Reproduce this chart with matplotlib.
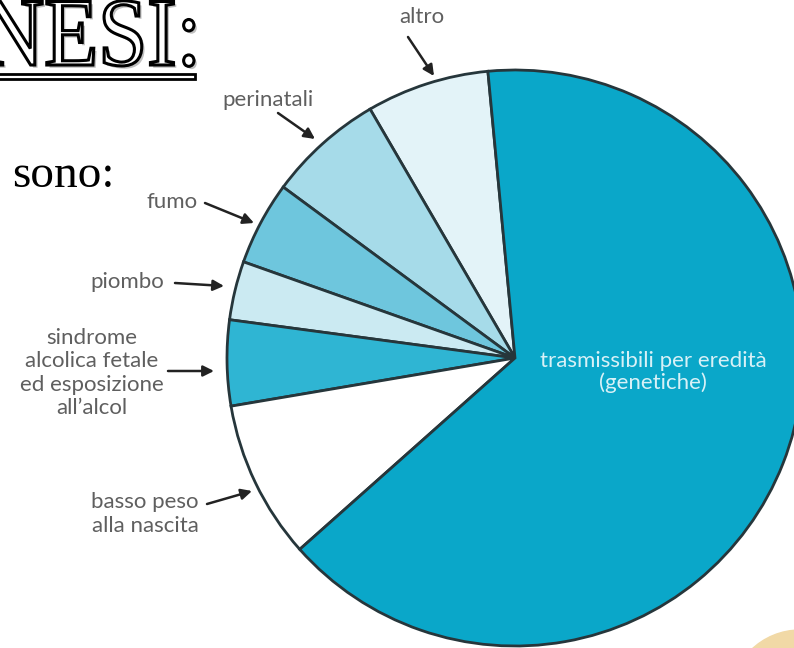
import matplotlib.pyplot as plt
import matplotlib.patheffects as pe
from matplotlib.patches import Circle, Rectangle, PathPatch
from matplotlib.textpath import TextPath
from matplotlib.font_manager import FontProperties
from matplotlib.transforms import Affine2D

W = 794
H = 648

# fette del grafico (in senso antiorario a partire dalla fetta "altro")
labels = ['altro', 'perinatali', 'fumo', 'piombo',
          'sindrome\nalcolica fetale\ned esposizione\nall\u2019alcol',
          'basso peso\nalla nascita',
          'trasmissibili per eredit\u00e0\n(genetiche)']
values = [6.9, 6.5, 4.7, 3.3, 4.8, 8.9, 65.0]
colors = ['#e3f3f8', '#a6dbe9', '#6ec6dd', '#cbeaf2', '#2fb5d3', '#ffffff', '#0aa7c9']

# posizione etichetta e freccia (pixel immagine): testo, coda, punta
label_pos = [(422, 17), (268, 100), (172, 202), (127, 282), (92, 373), (145, 514)]
arrow_tail = [(408, 37), (278, 113), (205, 203), (175, 283), (168, 371), (207, 504)]
arrow_head = [(434, 76), (315, 139), (254, 223), (224, 286), (214, 371), (252, 491)]


def Y(y):
    return H - y


fig = plt.figure(figsize=(W / 100, H / 100), dpi=100)
ax = fig.add_axes([0, 0, 1, 1])

ax.pie(values, colors=colors, startangle=95.4, center=(515, Y(358)), radius=288,
       wedgeprops=dict(edgecolor='#26363b', linewidth=2))

ax.set_xlim(0, W)
ax.set_ylim(0, H)
ax.set_aspect('equal')
ax.axis('off')

lab_font = dict(family=['Lato', 'DejaVu Sans'], fontsize=16, color='#5f5f5f',
                ha='center', va='center', linespacing=1.2)
for i in range(6):
    x, y = label_pos[i]
    ax.text(x, Y(y), labels[i], **lab_font)
    ax.annotate('', xy=(arrow_head[i][0], Y(arrow_head[i][1])),
                xytext=(arrow_tail[i][0], Y(arrow_tail[i][1])),
                arrowprops=dict(arrowstyle='-|>', color='#222222', lw=1.8,
                                mutation_scale=16, shrinkA=0, shrinkB=0))

ax.text(653, Y(372), labels[6], family=['Lato', 'DejaVu Sans'], fontsize=16,
        color='#d8f1f7', ha='center', va='center', linespacing=1.1)

# titolo della slide (tagliato a sinistra), lettere strette e alte
tp = TextPath((0, 0), 'NESI:', size=97, prop=FontProperties(family='Liberation Serif'))
right = tp.get_extents().x1 * 0.91
tr = Affine2D().scale(0.91, 1.0).translate(194 - right, Y(65))
title = PathPatch(tr.transform_path(tp), facecolor='white', edgecolor='black', lw=2.2,
                  path_effects=[pe.SimplePatchShadow(offset=(2, -2), alpha=0.35), pe.Normal()])
ax.add_patch(title)
ax.add_patch(Rectangle((-5, Y(79)), 200, 5, facecolor='white', edgecolor='black', lw=2))

ax.text(12, Y(187), 'sono:', family='Liberation Serif', fontsize=34, color='black',
        ha='left', va='baseline')

ax.add_patch(Circle((800, Y(700)), 70, color='#f1d9a6'))

plt.savefig('out.png', dpi=100)
